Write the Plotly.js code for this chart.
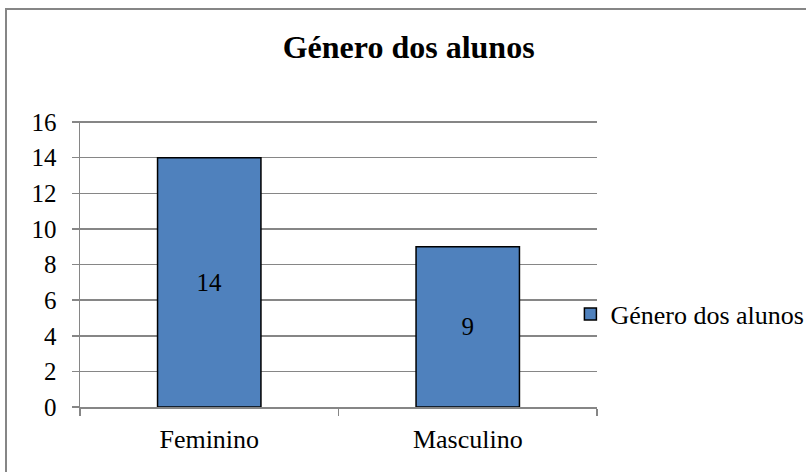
<!DOCTYPE html>
<html><head><meta charset="utf-8">
<script src="https://cdn.plot.ly/plotly-3.0.1.min.js"></script>
<style>html,body{margin:0;padding:0;background:#fff;}
#wrap{position:relative;width:806px;height:472px;overflow:hidden;}
#chart{position:absolute;left:0;top:0;width:806px;height:472px;}
#chart text{font-family:"Liberation Serif","Times New Roman",serif !important;}
#frame{position:absolute;left:5px;top:8px;width:900px;height:600px;border-left:2px solid #868686;border-top:2px solid #868686;pointer-events:none;}
</style></head>
<body><div id="wrap"><div id="chart"></div><div id="frame"></div></div>
<script>
const categories = ["Feminino", "Masculino"];
const values = [14, 9];
const seriesName = "Género dos alunos";
const titleText = "Género dos alunos";
const yTicks = [0, 2, 4, 6, 8, 10, 12, 14, 16];

const font = "Liberation Serif";
Plotly.newPlot("chart", [{
  type: "bar",
  x: categories,
  y: values,
  name: seriesName,
  text: values.map(String),
  textposition: "inside",
  insidetextanchor: "middle",
  textangle: 0,
  textfont: {family: font, size: 25, color: "#000"},
  marker: {color: "#4F81BD", line: {color: "#000", width: 1.5}},
  showlegend: true,
  hoverinfo: "none"
}], {
  width: 806, height: 472,
  paper_bgcolor: "rgba(0,0,0,0)", plot_bgcolor: "rgba(0,0,0,0)",
  margin: {l: 80, r: 209, t: 121, b: 65, pad: 0, autoexpand: false},
  bargap: 0.6,
  title: {text: "<b>" + titleText + "</b>", x: 0.507, xref: "container", xanchor: "center", y: 0.9, yref: "container", yanchor: "middle",
          font: {family: font, size: 32, color: "#000"}},
  font: {family: font, color: "#000"},
  xaxis: {
    showline: true, linecolor: "#868686", linewidth: 1.5,
    ticks: "outside", tickson: "boundaries", ticklen: 7, tickcolor: "#868686", tickwidth: 1.5,
    ticklabelstandoff: 8,
    tickfont: {family: font, size: 26, color: "#000"},
    showgrid: false, fixedrange: true, automargin: false
  },
  yaxis: {
    range: [0, 16.06], tickvals: yTicks, ticktext: yTicks.map(String),
    showline: true, linecolor: "#868686", linewidth: 1.5,
    ticks: "outside", ticklen: 7, tickcolor: "#868686", tickwidth: 1.5,
    ticklabelstandoff: 10,
    showgrid: true, gridcolor: "#868686", gridwidth: 1.5,
    zeroline: false,
    tickfont: {family: font, size: 25, color: "#000"},
    fixedrange: true, automargin: false
  },
  showlegend: true,
  legend: {x: 0.7077, xref: "container", xanchor: "left", y: 0.3347, yref: "container", yanchor: "middle",
           font: {family: font, size: 26, color: "#000"}, itemwidth: 30, bgcolor: "rgba(0,0,0,0)"}
}, {staticPlot: true});
</script></body></html>
